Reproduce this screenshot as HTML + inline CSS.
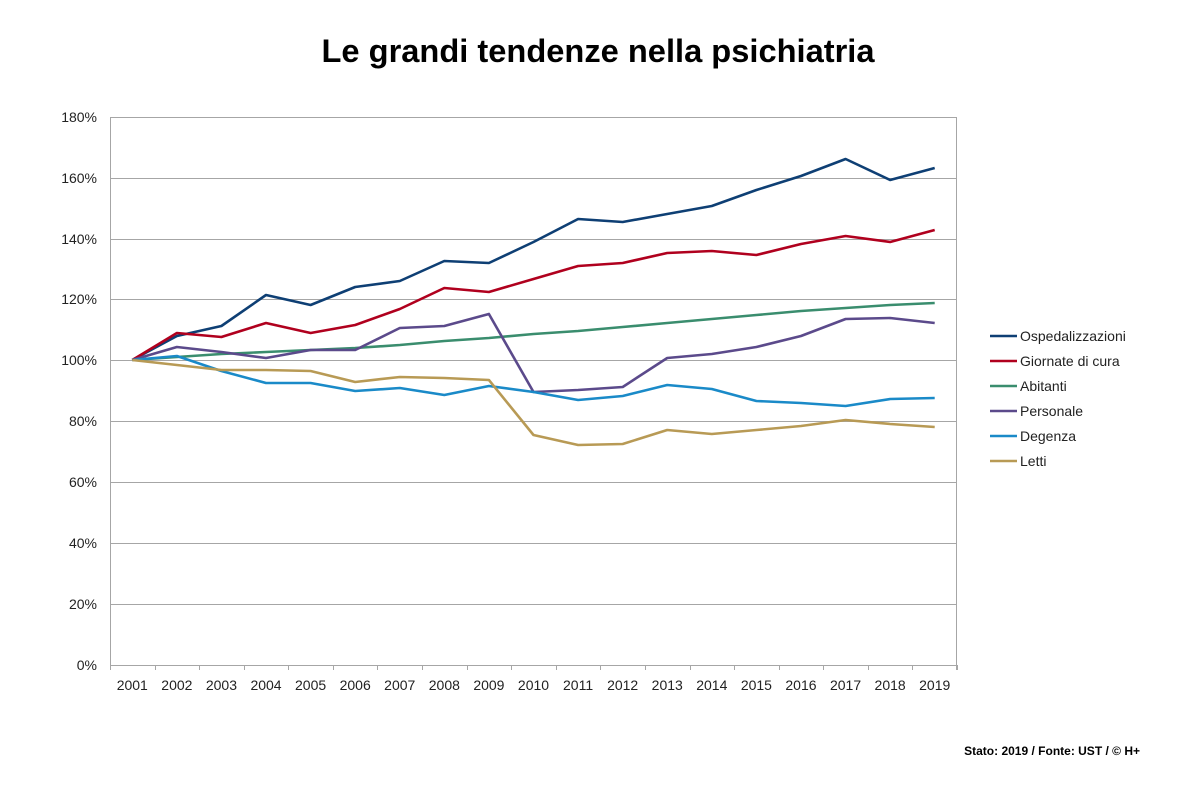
<!DOCTYPE html>
<html><head><meta charset="utf-8"><style>
body{margin:0;background:#fff;}
svg text{font-family:"Liberation Sans",sans-serif;}
</style></head><body>
<svg width="1200" height="796" viewBox="0 0 1200 796" xmlns="http://www.w3.org/2000/svg">
<text x="598" y="62" text-anchor="middle" font-size="32" font-weight="bold" fill="#000" textLength="553" lengthAdjust="spacingAndGlyphs">Le grandi tendenze nella psichiatria</text>
<g stroke="#a6a6a6" stroke-width="1">
<line x1="110" y1="117.5" x2="957" y2="117.5"/>
<line x1="110" y1="178.5" x2="957" y2="178.5"/>
<line x1="110" y1="239.5" x2="957" y2="239.5"/>
<line x1="110" y1="299.5" x2="957" y2="299.5"/>
<line x1="110" y1="360.5" x2="957" y2="360.5"/>
<line x1="110" y1="421.5" x2="957" y2="421.5"/>
<line x1="110" y1="482.5" x2="957" y2="482.5"/>
<line x1="110" y1="543.5" x2="957" y2="543.5"/>
<line x1="110" y1="604.5" x2="957" y2="604.5"/>
<line x1="110" y1="665.5" x2="957" y2="665.5"/>
<line x1="110.5" y1="117" x2="110.5" y2="670"/>
<line x1="956.5" y1="117" x2="956.5" y2="670"/>
</g>
<g stroke="#a6a6a6" id="ticks"></g>
<g font-size="14" fill="#222" text-anchor="end">
<text x="97" y="122">180%</text><text x="97" y="183">160%</text><text x="97" y="244">140%</text><text x="97" y="304">120%</text><text x="97" y="365">100%</text><text x="97" y="426">80%</text><text x="97" y="487">60%</text><text x="97" y="548">40%</text><text x="97" y="609">20%</text><text x="97" y="670">0%</text>
</g>
<g id="xl" font-size="14" fill="#222" text-anchor="middle"></g>
<g id="series" fill="none" stroke-width="2.6" stroke-linejoin="round"></g>
<g font-size="14" fill="#222" stroke-width="2.6">
<line x1="990" y1="336" x2="1017" y2="336" stroke="#0e3f74"/><text x="1020" y="341">Ospedalizzazioni</text>
<line x1="990" y1="361" x2="1017" y2="361" stroke="#b0001e"/><text x="1020" y="366">Giornate di cura</text>
<line x1="990" y1="386" x2="1017" y2="386" stroke="#3a8d6e"/><text x="1020" y="391">Abitanti</text>
<line x1="990" y1="411" x2="1017" y2="411" stroke="#5b4a8b"/><text x="1020" y="416">Personale</text>
<line x1="990" y1="436" x2="1017" y2="436" stroke="#1a8ac8"/><text x="1020" y="441">Degenza</text>
<line x1="990" y1="461" x2="1017" y2="461" stroke="#b89a55"/><text x="1020" y="466">Letti</text>
</g>
<text x="1140" y="755" text-anchor="end" font-size="12" font-weight="bold" fill="#000">Stato: 2019 / Fonte: UST / © H+</text>
<script>
var ns="http://www.w3.org/2000/svg",w=847/19;
var t=document.getElementById("ticks"),xl=document.getElementById("xl"),s=document.getElementById("series");
for(var i=0;i<=19;i++){var l=document.createElementNS(ns,"line");var x=110.5+Math.round(w*i);l.setAttribute("x1",x);l.setAttribute("x2",x);l.setAttribute("y1",665);l.setAttribute("y2",670);t.appendChild(l);}
for(var i=0;i<19;i++){var e=document.createElementNS(ns,"text");e.setAttribute("x",110+w*(i+.5));e.setAttribute("y",690);e.textContent=2001+i;xl.appendChild(e);}
var D=[
["#0e3f74",[360,336,326,295,305,287,281,261,263,242,219,222,214,206,190,176,159,180,168]],
["#b0001e",[360,333,337,323,333,325,309,288,292,279,266,263,253,251,255,244,236,242,230]],
["#3a8d6e",[360,357,354,352,350,348,345,341,338,334,331,327,323,319,315,311,308,305,303]],
["#5b4a8b",[360,347,352,358,350,350,328,326,314,392,390,387,358,354,347,336,319,318,323]],
["#1a8ac8",[360,356,371,383,383,391,388,395,386,392,400,396,385,389,401,403,406,399,398]],
["#b89a55",[360,365,370,370,371,382,377,378,380,435,445,444,430,434,430,426,420,424,427]]];
D.forEach(function(d){var p=document.createElementNS(ns,"polyline");p.setAttribute("stroke",d[0]);p.setAttribute("points",d[1].map(function(y,i){return (110+w*(i+.5)).toFixed(1)+","+y}).join(" "));s.appendChild(p);});
</script>
</svg>
</body></html>
